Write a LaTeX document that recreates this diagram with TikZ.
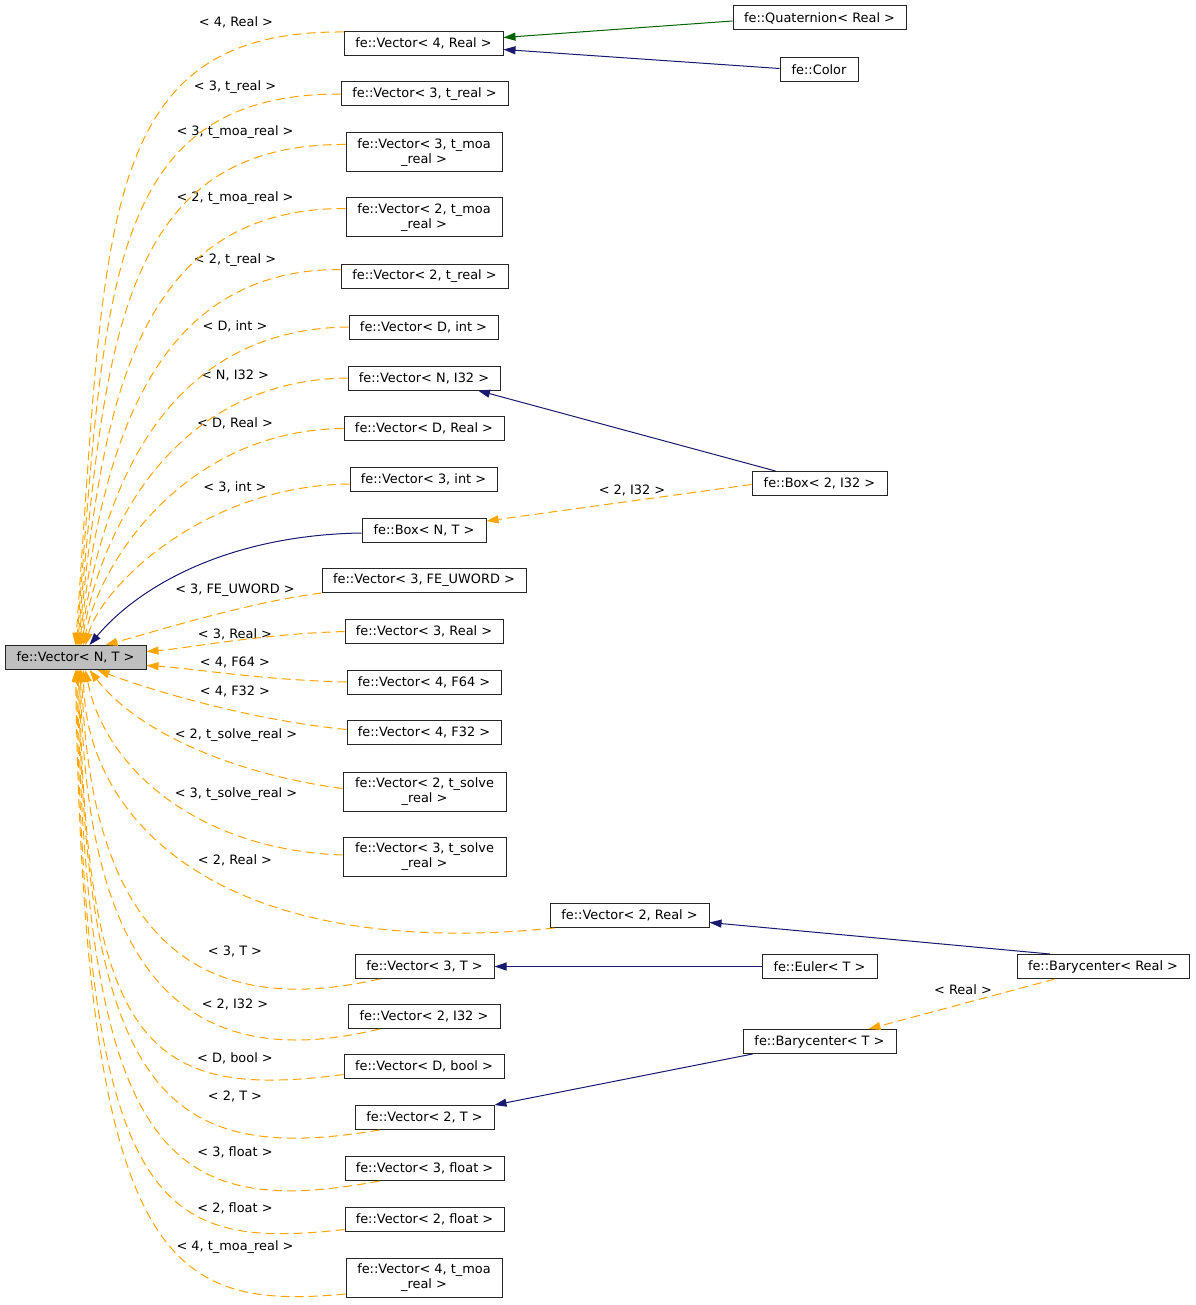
\documentclass[tikz,border=0pt]{standalone}
\usepackage{fontspec}
\setmainfont{DejaVu Sans}
\usetikzlibrary{arrows.meta}
\definecolor{dorange}{HTML}{FFA500}
\definecolor{dnavy}{HTML}{191970}
\definecolor{dgreen}{HTML}{006400}
\begin{document}
\begin{tikzpicture}[x=1pt,y=-1pt,
  txt/.style={font=\fontsize{12.9}{14.8}\selectfont},
  cls/.style={txt, draw=black!85, fill=white, line width=1pt, inner sep=0pt, minimum height=24pt, align=center},
  cls2/.style={cls, minimum height=39pt},
  rootcls/.style={cls, fill=black!25},
  lbl/.style={txt, inner sep=0pt},
  tmpl/.style={draw=dorange, line width=1pt, dash pattern=on 9pt off 5pt, -{Triangle[length=12pt,width=8pt]}},
  pub/.style={draw=dnavy, line width=1pt, -{Triangle[length=12pt,width=8pt]}},
  prot/.style={draw=dgreen, line width=1pt, -{Triangle[length=12pt,width=8pt]}},
]
\useasboundingbox[fill=white] (0,0) rectangle (1195,1305);

% nodes
\node[rootcls, minimum width=141pt] (root) at (75.5,657.5) {fe::Vector< N, T >};
\node[cls, minimum width=159pt] (v4real) at (423.5,43.5) {fe::Vector< 4, Real >};
\node[cls, minimum width=167pt] (v3treal) at (424.5,94) {fe::Vector< 3, t\_real >};
\node[cls2, minimum width=156pt] (v3tmoa) at (424,152.5) {fe::Vector< 3, t\_moa\\\_real >};
\node[cls2, minimum width=156pt] (v2tmoa) at (424,217.5) {fe::Vector< 2, t\_moa\\\_real >};
\node[cls, minimum width=167pt] (v2treal) at (424.5,276.5) {fe::Vector< 2, t\_real >};
\node[cls, minimum width=149pt] (vdint) at (423.5,327) {fe::Vector< D, int >};
\node[cls, minimum width=152pt] (vni32) at (424,378) {fe::Vector< N, I32 >};
\node[cls, minimum width=160pt] (vdreal) at (424,428.5) {fe::Vector< D, Real >};
\node[cls, minimum width=147pt] (v3int) at (423.5,479) {fe::Vector< 3, int >};
\node[cls, minimum width=124pt] (boxnt) at (424,530) {fe::Box< N, T >};
\node[cls, minimum width=204pt] (v3fe) at (424,580.5) {fe::Vector< 3, FE\_UWORD >};
\node[cls, minimum width=158pt] (v3real) at (424,631.5) {fe::Vector< 3, Real >};
\node[cls, minimum width=154pt] (v4f64) at (424,682) {fe::Vector< 4, F64 >};
\node[cls, minimum width=154pt] (v4f32) at (424,732.5) {fe::Vector< 4, F32 >};
\node[cls2, minimum width=163pt] (v2tsolve) at (424.5,791.5) {fe::Vector< 2, t\_solve\\\_real >};
\node[cls2, minimum width=163pt] (v3tsolve) at (424.5,857) {fe::Vector< 3, t\_solve\\\_real >};
\node[cls, minimum width=159pt] (v2real) at (629.5,915.5) {fe::Vector< 2, Real >};
\node[cls, minimum width=139pt] (v3t) at (424.5,966.5) {fe::Vector< 3, T >};
\node[cls, minimum width=152pt] (v2i32) at (424,1016.5) {fe::Vector< 2, I32 >};
\node[cls, minimum width=160pt] (vdbool) at (424,1066.5) {fe::Vector< D, bool >};
\node[cls, minimum width=139pt] (v2t) at (424.5,1117.5) {fe::Vector< 2, T >};
\node[cls, minimum width=159pt] (v3float) at (424.5,1168.5) {fe::Vector< 3, float >};
\node[cls, minimum width=159pt] (v2float) at (424.5,1219.5) {fe::Vector< 2, float >};
\node[cls2, minimum width=156pt] (v4tmoa) at (424,1278) {fe::Vector< 4, t\_moa\\\_real >};
\node[cls, minimum width=173pt] (quat) at (819.5,18) {fe::Quaternion< Real >};
\node[cls, minimum width=78pt] (color) at (819,69.5) {fe::Color};
\node[cls, minimum width=135pt] (box2) at (819.5,483.5) {fe::Box< 2, I32 >};
\node[cls, minimum width=115pt] (euler) at (819.5,966.5) {fe::Euler< T >};
\node[cls, minimum width=172pt] (baryr) at (1103,966.5) {fe::Barycenter< Real >};
\node[cls, minimum width=153pt] (baryt) at (819.5,1041.5) {fe::Barycenter< T >};

% edge labels
\node[lbl] (l1) at (236,22) {< 4, Real >};
\node[lbl] (l2) at (235,87) {< 3, t\_real >};
\node[lbl] (l3) at (235,132) {< 3, t\_moa\_real >};
\node[lbl] (l4) at (235,198) {< 2, t\_moa\_real >};
\node[lbl] (l5) at (235,260) {< 2, t\_real >};
\node[lbl] (l6) at (235,326) {< D, int >};
\node[lbl] (l7) at (235,375) {< N, I32 >};
\node[lbl] (l8) at (235,423) {< D, Real >};
\node[lbl] (l9) at (235,487) {< 3, int >};
\node[lbl] (l11) at (235,590) {< 3, FE\_UWORD >};
\node[lbl] (l12) at (235,634) {< 3, Real >};
\node[lbl] (l13) at (235,662) {< 4, F64 >};
\node[lbl] (l14) at (235,691) {< 4, F32 >};
\node[lbl] (l15) at (236,735) {< 2, t\_solve\_real >};
\node[lbl] (l16) at (236,794) {< 3, t\_solve\_real >};
\node[lbl] (l17) at (235,860) {< 2, Real >};
\node[lbl] (l18) at (235,951) {< 3, T >};
\node[lbl] (l19) at (235,1004) {< 2, I32 >};
\node[lbl] (l20) at (235,1058) {< D, bool >};
\node[lbl] (l21) at (235,1096) {< 2, T >};
\node[lbl] (l22) at (235,1152) {< 3, float >};
\node[lbl] (l23) at (235,1208) {< 2, float >};
\node[lbl] (l24) at (235,1247) {< 4, t\_moa\_real >};
\node[lbl] (lb2) at (632,490) {< 2, I32 >};
\node[lbl] (lbr) at (963,990) {< Real >};

% template instances -> root (upper)
\draw[tmpl] ([yshift=-1pt]v4real.north west) .. controls (94,30) and (106,230) .. ([xshift=71pt]root.north west);
\draw[tmpl] (v3treal.west) .. controls (106,94) and (105,287) .. ([xshift=72pt]root.north west);
\draw[tmpl] ([yshift=8pt]v3tmoa.west) .. controls (120,143) and (104,345) .. ([xshift=73pt]root.north west);
\draw[tmpl] ([yshift=9pt]v2tmoa.west) .. controls (135,208) and (102,405) .. ([xshift=74pt]root.north west);
\draw[tmpl] ([yshift=7pt]v2treal.west) .. controls (149,269) and (101,455) .. ([xshift=75pt]root.north west);
\draw[tmpl] (vdint.west) .. controls (161,329) and (101,497) .. ([xshift=76pt]root.north west);
\draw[tmpl] (vni32.west) .. controls (173,380) and (100,532) .. ([xshift=77pt]root.north west);
\draw[tmpl] (vdreal.west) .. controls (186,430) and (100,561) .. ([xshift=79pt]root.north west);
\draw[tmpl] ([yshift=-5pt]v3int.west) .. controls (200,486) and (100,590) .. ([xshift=81pt]root.north west);
\draw[pub] ([yshift=-3pt]boxnt.west) .. controls (230,535) and (140,585) .. ([xshift=85pt]root.north west);
\draw[tmpl] (v3fe.south west) .. controls (250,602) and (160,630) .. ([xshift=101pt]root.north west);
\draw[tmpl] (v3real.west) .. controls (260,634) and (190,648) .. ([yshift=6pt]root.east);
% lower
\draw[tmpl] (v4f64.west) .. controls (260,680) and (190,668) .. ([yshift=-8pt]root.east);
\draw[tmpl] ([yshift=3pt]v4f32.west) .. controls (250,720) and (150,690) .. ([xshift=93pt]root.south west);
\draw[tmpl] ([yshift=3pt]v2tsolve.west) .. controls (240,775) and (140,735) .. ([xshift=85pt]root.south west);
\draw[tmpl] ([yshift=2pt]v3tsolve.west) .. controls (200,850) and (105,770) .. ([xshift=81pt]root.south west);
\draw[tmpl] ([xshift=5pt]v2real.south west) .. controls (220,962) and (85,820) .. ([xshift=79pt]root.south west);
\draw[tmpl] ([xshift=25pt]v3t.south west) .. controls (200,1020) and (90,940) .. ([xshift=77pt]root.south west);
\draw[tmpl] ([xshift=32pt]v2i32.south west) .. controls (190,1075) and (85,980) .. ([xshift=76pt]root.south west);
\draw[tmpl] ([yshift=-8pt]vdbool.west) .. controls (150,1100) and (85,1050) .. ([xshift=75pt]root.south west);
\draw[tmpl] ([xshift=25pt]v2t.south west) .. controls (170,1165) and (85,1100) .. ([xshift=74pt]root.south west);
\draw[tmpl] ([xshift=35pt]v3float.south west) .. controls (170,1220) and (85,1160) .. ([xshift=73pt]root.south west);
\draw[tmpl] ([yshift=-10pt]v2float.west) .. controls (160,1250) and (85,1215) .. ([xshift=72pt]root.south west);
\draw[tmpl] ([yshift=-16pt]v4tmoa.west) .. controls (170,1310) and (85,1270) .. ([xshift=71pt]root.south west);

% right side
\draw[prot] ([yshift=-3pt]quat.west) -- ([yshift=6pt]v4real.east);
\draw[pub] ([yshift=1pt]color.west) -- ([yshift=-6pt]v4real.east);
\draw[pub] ([xshift=-44pt]box2.north) -- ([xshift=54pt]vni32.south);
\draw[tmpl] ([yshift=-1pt]box2.west) -- ([yshift=9pt]boxnt.east);
\draw[pub] ([xshift=-53pt]baryr.north) -- ([yshift=-7pt]v2real.east);
\draw[pub] (euler.west) -- (v3t.east);
\draw[tmpl] ([xshift=-48pt]baryr.south) -- ([xshift=49pt]baryt.north);
\draw[pub] ([xshift=-67pt]baryt.south) -- (v2t.north east);
\end{tikzpicture}
\end{document}
